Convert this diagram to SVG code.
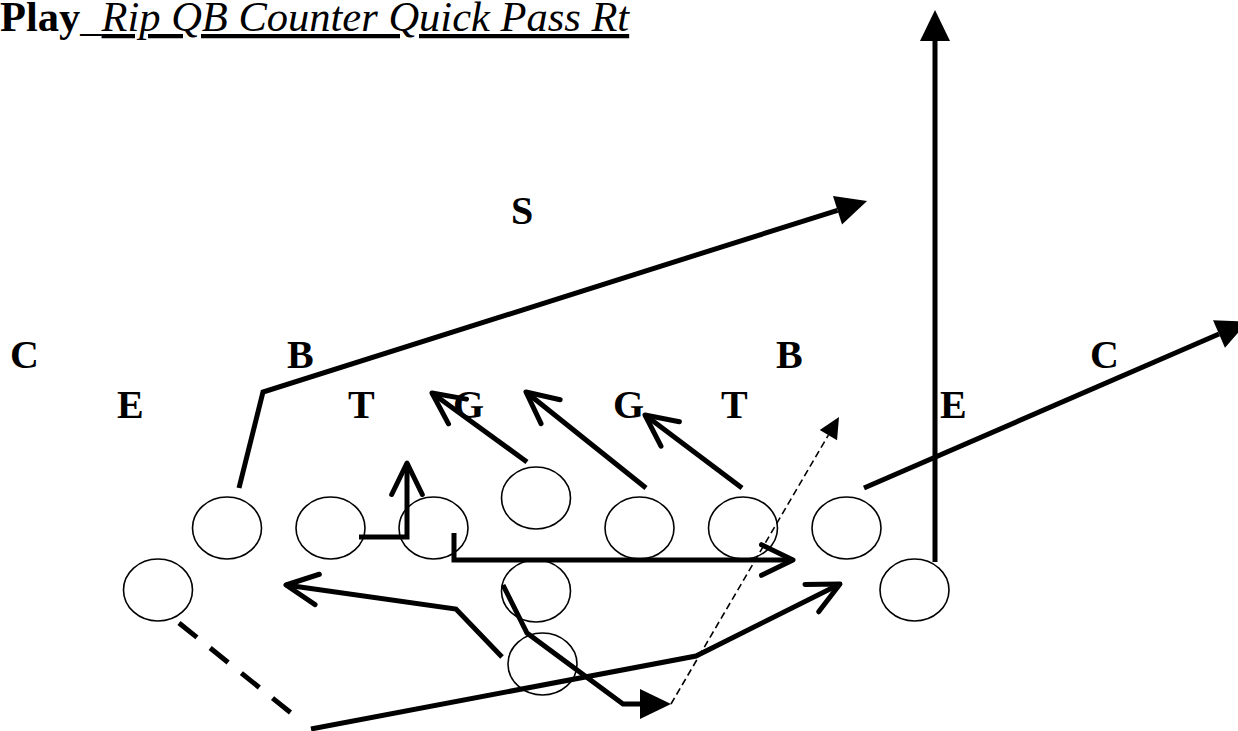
<svg xmlns="http://www.w3.org/2000/svg" width="1238" height="731" viewBox="0 0 1238 731">
<style>
.lbl{font-family:"Liberation Serif","Times New Roman",serif;font-weight:bold;font-size:40px;fill:#000}
.pl{fill:none;stroke:#000;stroke-width:1.6}
.rt{fill:none;stroke:#000;stroke-width:5}
.dash{fill:none;stroke:#000;stroke-width:5;stroke-dasharray:23 17}
.thin{fill:none;stroke:#000;stroke-width:1.6;stroke-dasharray:7 4}
</style>
<defs>
<marker id="fill" markerUnits="userSpaceOnUse" orient="auto" refX="0" refY="0" markerWidth="40" markerHeight="40" viewBox="-5 -20 40 40" overflow="visible">
<path d="M0,-15 L31,0 L0,15 Z" fill="#000" stroke="none"/>
</marker>
<marker id="small" markerUnits="userSpaceOnUse" orient="auto" refX="0" refY="0" markerWidth="30" markerHeight="30" viewBox="-5 -15 30 30" overflow="visible">
<path d="M0,-10 L21,0 L0,10 Z" fill="#000" stroke="none"/>
</marker>
<marker id="open" markerUnits="userSpaceOnUse" orient="auto" refX="0" refY="0" markerWidth="50" markerHeight="40" viewBox="-40 -20 50 40" overflow="visible">
<path d="M-31.5,-15.3 L0,0 L-31.5,15.3" fill="none" stroke="#000" stroke-width="5" stroke-linejoin="round" stroke-linecap="round"/>
</marker>
</defs>
<rect width="1238" height="731" fill="#fff"/>
<g id="title">
<text x="0" y="31" font-family="Liberation Serif, Times New Roman, serif" font-size="42.5"><tspan font-weight="bold">Play</tspan><tspan>_</tspan><tspan font-style="italic" text-decoration="underline">Rip QB Counter Quick Pass Rt</tspan></text>
</g>
<g id="defense">
<g id="d-S"><text class="lbl" x="511" y="224">S</text></g>
<g id="d-C1"><text class="lbl" x="10" y="368">C</text></g>
<g id="d-B1"><text class="lbl" x="287" y="368">B</text></g>
<g id="d-B2"><text class="lbl" x="776" y="368">B</text></g>
<g id="d-C2"><text class="lbl" x="1090" y="368">C</text></g>
<g id="d-E1"><text class="lbl" x="117" y="418">E</text></g>
<g id="d-T1"><text class="lbl" x="348" y="418">T</text></g>
<g id="d-G1"><text class="lbl" x="453" y="418">G</text></g>
<g id="d-G2"><text class="lbl" x="613" y="418">G</text></g>
<g id="d-T2"><text class="lbl" x="721" y="418">T</text></g>
<g id="d-E2"><text class="lbl" x="940" y="418">E</text></g>
</g>
<g id="offense">
<g id="o-1"><ellipse class="pl" cx="227" cy="528" rx="34.5" ry="31"/></g>
<g id="o-2"><ellipse class="pl" cx="330.5" cy="528" rx="34.5" ry="31"/></g>
<g id="o-3"><ellipse class="pl" cx="433.5" cy="528" rx="34.5" ry="31"/></g>
<g id="o-4"><ellipse class="pl" cx="536" cy="498" rx="34.5" ry="31"/></g>
<g id="o-5"><ellipse class="pl" cx="639.5" cy="528" rx="34.5" ry="31"/></g>
<g id="o-6"><ellipse class="pl" cx="743" cy="528" rx="34.5" ry="31"/></g>
<g id="o-7"><ellipse class="pl" cx="846.5" cy="528" rx="34.5" ry="31"/></g>
<g id="o-8"><ellipse class="pl" cx="158" cy="590" rx="34.5" ry="31"/></g>
<g id="o-9"><ellipse class="pl" cx="536" cy="591" rx="34.5" ry="31"/></g>
<g id="o-10"><ellipse class="pl" cx="914.5" cy="590" rx="34.5" ry="31"/></g>
<g id="o-11"><ellipse class="pl" cx="542.5" cy="664" rx="34.5" ry="31"/></g>
</g>
<g id="connectors">
<polyline class="rt" points="239,488 263,392 837.5,210.3" marker-end="url(#fill)"/>
<polyline class="rt" points="935,562 935,41" marker-end="url(#fill)"/>
<polyline class="rt" points="864,488 1219,334" marker-end="url(#fill)"/>
<polyline class="rt" points="527,462 432,393" marker-end="url(#open)"/>
<polyline class="rt" points="646,488 526,392" marker-end="url(#open)"/>
<polyline class="rt" points="742,488 645,415" marker-end="url(#open)"/>
<polyline class="rt" points="359,537 407,537 407,463" marker-end="url(#open)"/>
<polyline class="rt" points="454,533 454,560 793,560" marker-end="url(#open)"/>
<polyline class="rt" points="502,657 456,609 286,585" marker-end="url(#open)"/>
<polyline class="rt" points="503,585 527,633 623,704 640,704" marker-end="url(#fill)"/>
<polyline class="thin" points="671,704 828.4,435.1" marker-end="url(#small)"/>
<polyline class="dash" points="179,623 296,717"/>
<polyline class="rt" points="311,729 696,656 840,584" marker-end="url(#open)"/>
</g>
</svg>
